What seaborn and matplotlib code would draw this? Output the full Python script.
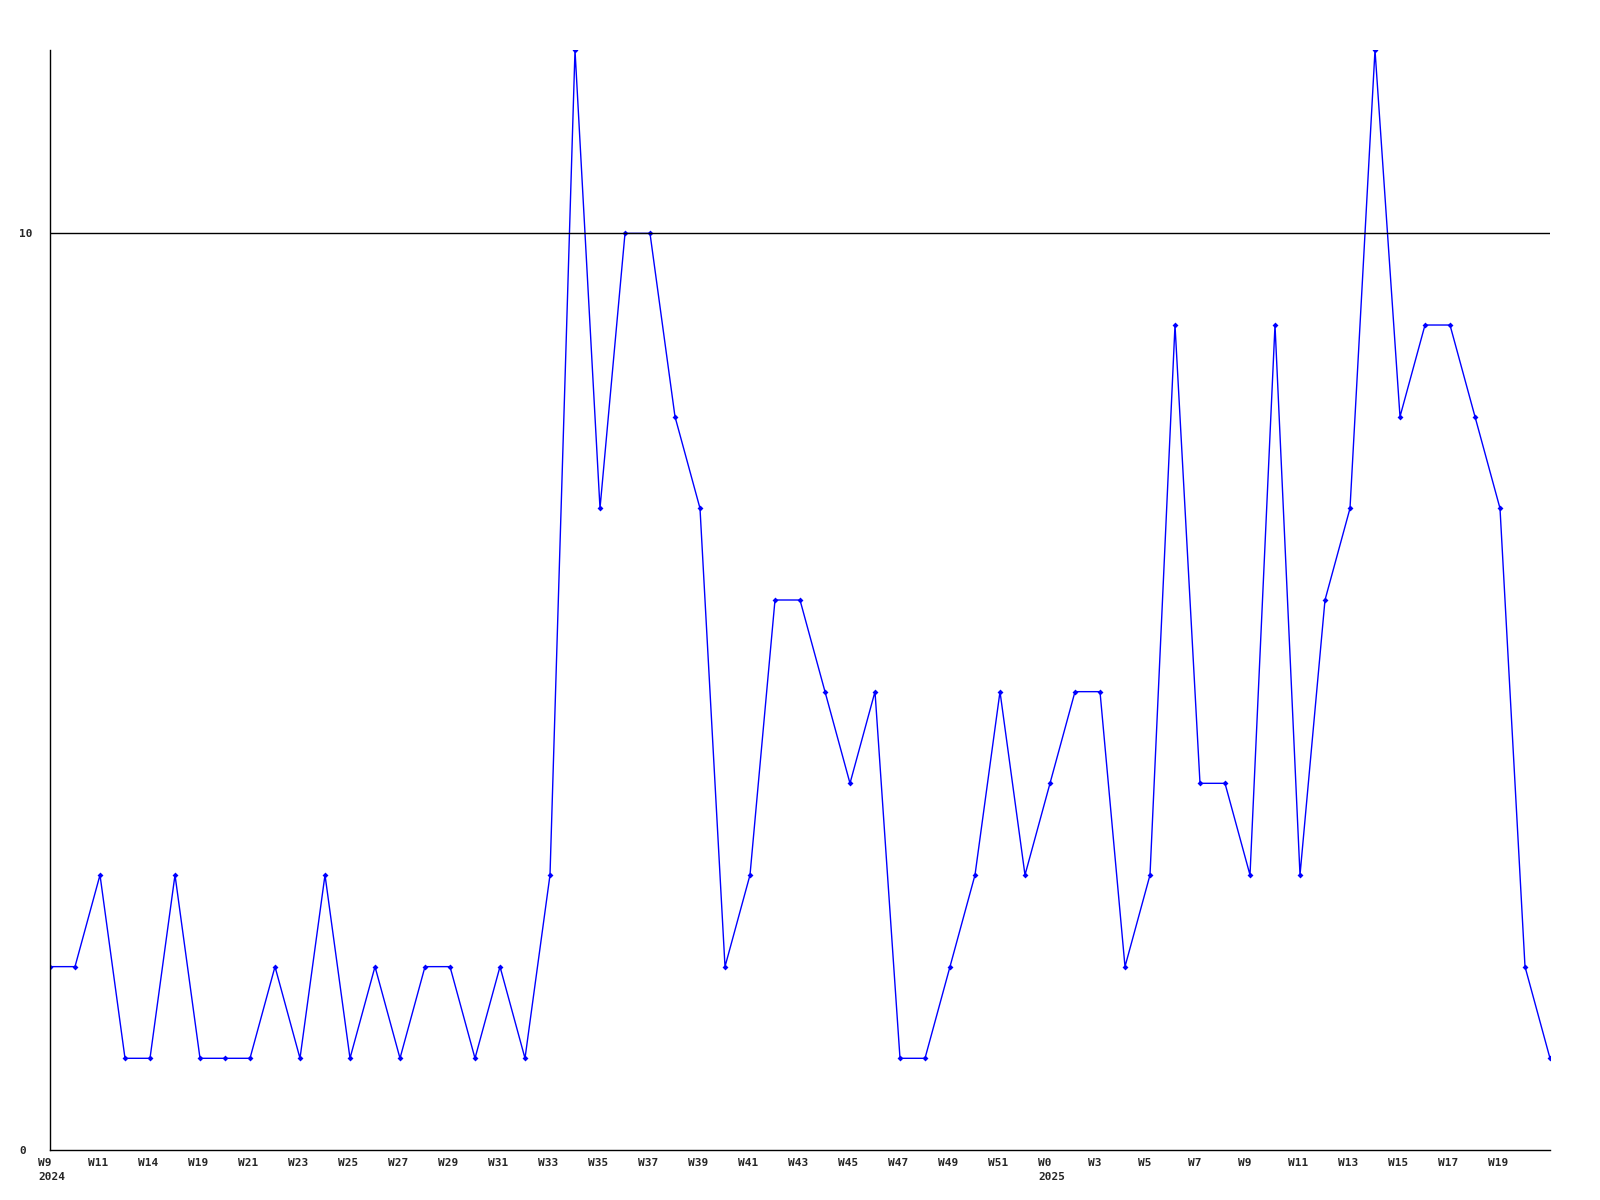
import numpy as np
import pandas as pd
import seaborn as sns
import matplotlib.pyplot as plt
from matplotlib.transforms import ScaledTranslation

# weekly counts, W9 2024 .. W20 2025
counts = [2, 2, 3, 1, 1, 3, 1, 1, 1, 2,
          1, 3, 1, 2, 1, 2, 2, 1, 2, 1,
          3, 12, 7, 10, 10, 8, 7, 2, 3, 6,
          6, 5, 4, 5, 1, 1, 2, 3, 5, 3,
          4, 5, 5, 2, 3, 9, 4, 4, 3, 9,
          3, 6, 7, 12, 8, 9, 9, 8, 7, 2,
          1]

# labels shown on every second point
tick_labels = ['W9', 'W11', 'W14', 'W19', 'W21', 'W23', 'W25', 'W27', 'W29', 'W31',
               'W33', 'W35', 'W37', 'W39', 'W41', 'W43', 'W45', 'W47', 'W49', 'W51',
               'W0', 'W3', 'W5', 'W7', 'W9', 'W11', 'W13', 'W15', 'W17', 'W19']
year_labels = {0: '2024', 40: '2025'}

df = pd.DataFrame({'idx': np.arange(len(counts)), 'count': counts})

sns.set_style('white')
plt.rcParams['font.family'] = ['DejaVu Sans Mono']

fig = plt.figure(figsize=(16, 12), dpi=100)
ax = fig.add_axes([0.03125, 0.0417, 0.9375, 0.9166])

sns.lineplot(data=df, x='idx', y='count', color='#0000ff', linewidth=1,
             marker='D', markersize=3, markeredgewidth=0, ax=ax)

ax.axhline(10, color='black', linewidth=1)

ax.set_xlim(0, len(counts) - 1)
ax.set_ylim(0, 12)
ax.set_xlabel('')
ax.set_ylabel('')

# x labels: left aligned, starting a bit left of each point
ticks = list(range(0, len(counts) - 1, 2))
ax.set_xticks(ticks)
ax.set_xticklabels([])
off = ScaledTranslation(-12 / 100, -8 / 100, fig.dpi_scale_trans)
for i, t in enumerate(ticks):
    lab = tick_labels[i]
    if t in year_labels:
        lab = lab + '\n' + year_labels[t]
    ax.text(t, 0, lab, transform=ax.get_xaxis_transform() + off,
            fontsize=8, fontweight='bold', ha='left', va='top',
            linespacing=1.5, clip_on=False)

ax.set_yticks([0, 10])
ax.set_yticklabels(['0', '10'], fontsize=8, fontweight='bold', ha='left')
ax.tick_params(axis='x', length=0)
ax.tick_params(axis='y', length=0, pad=22)

sns.despine(ax=ax, top=True, right=True)
for s in ['left', 'bottom']:
    ax.spines[s].set_color('black')
    ax.spines[s].set_linewidth(1)

fig.savefig('out.png', dpi=100)
